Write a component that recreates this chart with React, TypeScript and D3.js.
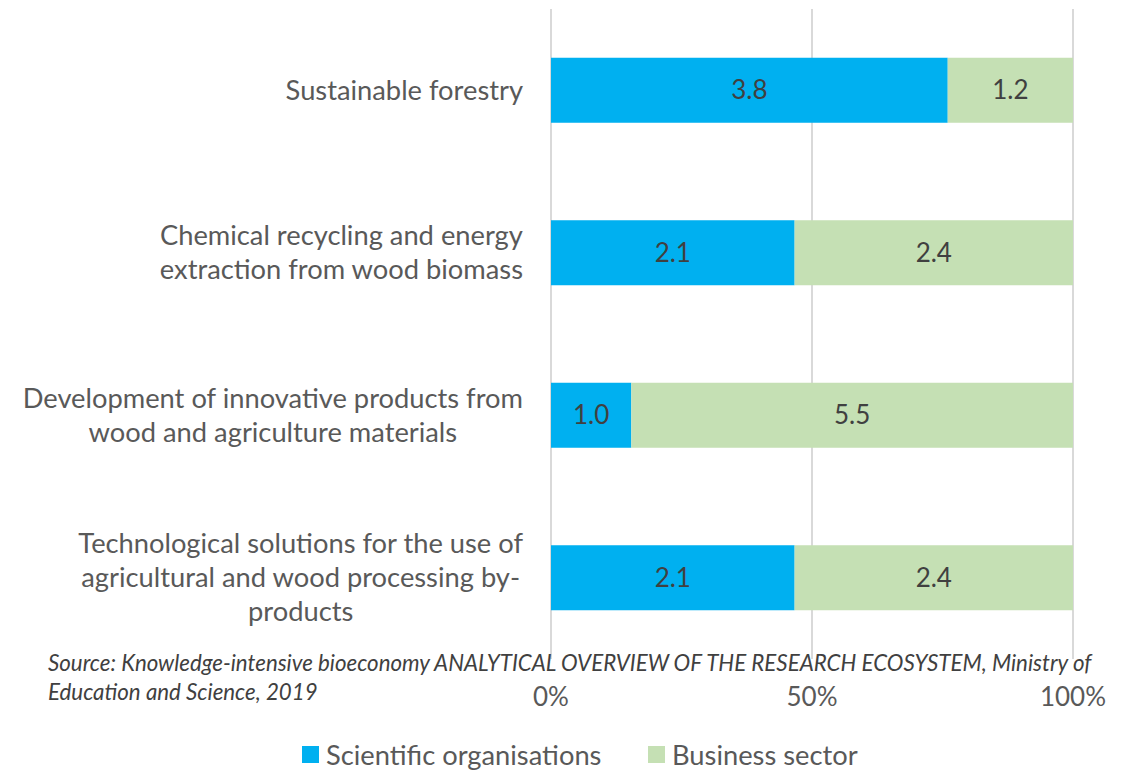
import React, { useEffect, useRef } from "react";
import * as d3 from "d3";

const categories = [
  ["Sustainable forestry"],
  ["Chemical recycling and energy", "extraction from wood biomass"],
  ["Development of innovative products from", "wood and agriculture materials"],
  ["Technological solutions for the use of", "agricultural and wood processing by-", "products"],
];
const scientific = [3.8, 2.1, 1.0, 2.1];
const business = [1.2, 2.4, 5.5, 2.4];
const seriesNames = ["Scientific organisations", "Business sector"];
const seriesColors = ["#00B0F0", "#C5E0B4"];
const tickValues = [0, 0.5, 1];
const sourceLines = [
  "Source: Knowledge-intensive bioeconomy ANALYTICAL OVERVIEW OF THE RESEARCH ECOSYSTEM, Ministry of",
  "Education and Science, 2019",
];

const FONT = "Lato, 'Open Sans', sans-serif";

export default function App() {
  const ref = useRef<SVGSVGElement>(null);

  useEffect(() => {
    const svg = d3.select(ref.current);
    svg.selectAll("*").remove();

    const x = d3.scaleLinear().domain([0, 1]).range([551, 1073]);
    const y = d3
      .scaleBand<number>()
      .domain(d3.range(categories.length))
      .range([9, 659])
      .paddingInner(0.6)
      .paddingOuter(0.3);

    svg
      .append("g")
      .selectAll("line")
      .data(tickValues)
      .join("line")
      .attr("x1", (d) => x(d))
      .attr("x2", (d) => x(d))
      .attr("y1", 9)
      .attr("y2", 659)
      .attr("stroke", "#d9d9d9")
      .attr("stroke-width", 2);

    const rows = categories.map((c, i) => {
      const tot = scientific[i] + business[i];
      return { i, s: scientific[i], b: business[i], ps: scientific[i] / tot };
    });

    const g = svg.append("g");
    rows.forEach((r) => {
      const segs = [
        { v: r.s, x0: 0, x1: r.ps, c: seriesColors[0] },
        { v: r.b, x0: r.ps, x1: 1, c: seriesColors[1] },
      ];
      segs.forEach((s) => {
        g.append("rect")
          .attr("x", x(s.x0))
          .attr("y", y(r.i)!)
          .attr("width", x(s.x1) - x(s.x0))
          .attr("height", y.bandwidth())
          .attr("fill", s.c);
        g.append("text")
          .attr("x", (x(s.x0) + x(s.x1)) / 2)
          .attr("y", y(r.i)! + y.bandwidth() / 2)
          .attr("dy", "0.35em")
          .attr("text-anchor", "middle")
          .attr("font-family", FONT)
          .attr("font-size", 26)
          .attr("fill", "#404040")
          .text(d3.format(".1f")(s.v));
      });
    });

    const lineH = 34;
    categories.forEach((lines, i) => {
      const cy = y(i)! + y.bandwidth() / 2;
      const t = svg
        .append("text")
        .attr("font-family", FONT)
        .attr("font-size", 27.3)
        .attr("fill", "#595959")
        .attr("text-anchor", "middle");
      const tspans = lines.map((ln, k) =>
        t
          .append("tspan")
          .attr("y", cy + (k - (lines.length - 1) / 2) * lineH)
          .attr("dy", "0.35em")
          .text(ln)
      );
      let maxW = 0;
      tspans.forEach((ts) => {
        const w = (ts.node() as SVGTextContentElement).getComputedTextLength();
        if (w > maxW) maxW = w;
      });
      const cx = 523 - maxW / 2;
      tspans.forEach((ts) => ts.attr("x", cx));
    });

    svg
      .append("g")
      .selectAll("text")
      .data(tickValues)
      .join("text")
      .attr("x", (d) => x(d))
      .attr("y", 697)
      .attr("dy", "0.35em")
      .attr("text-anchor", "middle")
      .attr("font-family", FONT)
      .attr("font-size", 26)
      .attr("fill", "#595959")
      .text((d) => d3.format(".0%")(d));

    const src = svg
      .append("text")
      .attr("font-family", FONT)
      .attr("font-style", "italic")
      .attr("font-size", 22.3)
      .attr("fill", "#404040");
    sourceLines.forEach((ln, k) => {
      src.append("tspan").attr("x", 48).attr("y", 663 + k * 29).attr("dy", "0.35em").text(ln);
    });

    const legendX = [302, 648];
    seriesNames.forEach((n, k) => {
      svg
        .append("rect")
        .attr("x", legendX[k])
        .attr("y", 746)
        .attr("width", 17)
        .attr("height", 17)
        .attr("fill", seriesColors[k]);
      svg
        .append("text")
        .attr("x", legendX[k] + 24)
        .attr("y", 755)
        .attr("dy", "0.35em")
        .attr("font-family", FONT)
        .attr("font-size", 27.3)
        .attr("fill", "#595959")
        .text(n);
    });
  }, []);

  return (
    <svg
      ref={ref}
      width={1125}
      height={770}
      style={{ position: "absolute", left: 0, top: 0, background: "#fff" }}
    />
  );
}
